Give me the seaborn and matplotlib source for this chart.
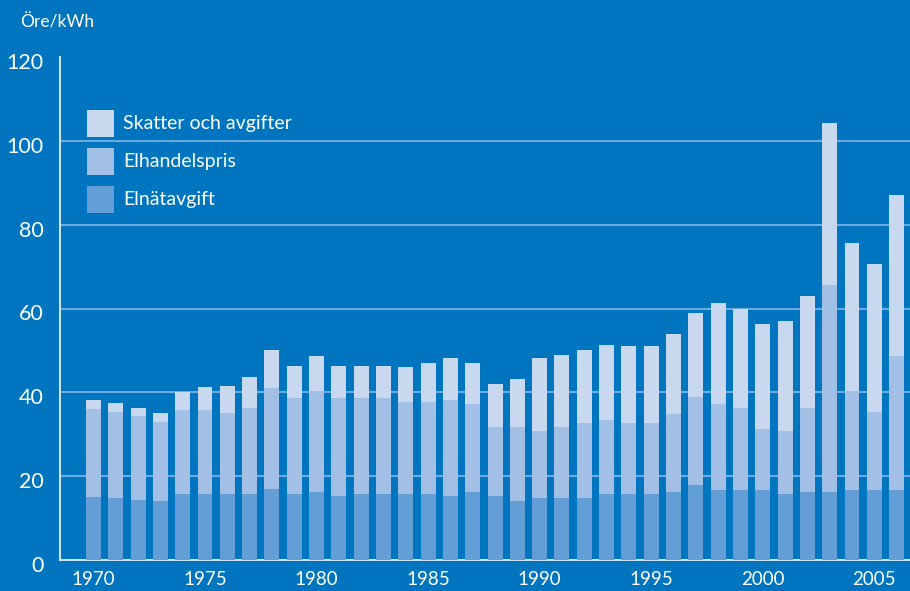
import numpy as np
import pandas as pd
import matplotlib
matplotlib.use('Agg')
import matplotlib.pyplot as plt
import matplotlib.transforms as mtransforms
import seaborn as sns
from matplotlib.patches import Rectangle

years = list(range(1970, 2007))
elnat = [15.0, 14.8, 14.3, 14.0, 15.7, 15.7, 15.7, 15.7, 16.9, 15.7,
         16.2, 15.2, 15.7, 15.7, 15.7, 15.7, 15.2, 16.2, 15.2, 14.0,
         14.8, 14.8, 14.8, 15.7, 15.7, 15.7, 16.2, 17.9, 16.7, 16.7,
         16.7, 15.7, 16.2, 16.2, 16.7, 16.7, 16.7]
# top of the middle segment (elnät + elhandel)
elhandel_top = [36.0, 35.2, 34.3, 32.9, 35.7, 35.7, 35.0, 36.2, 41.0, 38.6,
                40.2, 38.6, 38.6, 38.6, 37.6, 37.6, 38.1, 37.1, 31.7, 31.7,
                30.7, 31.7, 32.6, 33.3, 32.6, 32.6, 34.8, 38.8, 37.1, 36.2,
                31.2, 30.7, 36.2, 65.5, 40.2, 35.2, 48.6]
# total price
total = [38.1, 37.4, 36.2, 35.0, 40.0, 41.2, 41.4, 43.6, 50.2, 46.2,
         48.6, 46.4, 46.4, 46.4, 46.0, 47.1, 48.1, 47.1, 42.1, 43.1,
         48.1, 49.0, 50.2, 51.4, 51.0, 51.0, 54.0, 59.0, 61.2, 60.0,
         56.2, 57.1, 63.1, 104.3, 75.7, 70.5, 87.1]

labels = ['Skatter och avgifter', 'Elhandelspris', 'Elnätavgift']
colors = ['#c8d8ee', '#a2c0e5', '#639fd6']

bg = '#0075bf'
grid_col = '#6aaadf'
axis_col = '#e6eff9'

df = pd.DataFrame({'year': years, 'elnat': elnat,
                   'elhandel_top': elhandel_top, 'total': total})

sns.set_style('white')
plt.rcParams['font.family'] = ['Lato', 'DejaVu Sans']

W, H = 910, 591
fig = plt.figure(figsize=(9.1, 5.91), dpi=100, facecolor=bg)
ax = fig.add_axes([60 / W, 31 / H, 850 / W, 503 / H])
ax.set_facecolor(bg)

for col, c in zip(['total', 'elhandel_top', 'elnat'], colors):
    sns.barplot(data=df, x='year', y=col, color=c, width=0.67,
                saturation=1, linewidth=0, edgecolor='none', ax=ax, zorder=3)

ax.set_ylim(0, 120)
ax.set_xlim(-1.5, 36.6)
ax.set_yticks(range(0, 121, 20))
ax.set_yticklabels([str(v) for v in range(0, 121, 20)])
ax.set_xticks(range(0, 37, 5))
ax.set_xticklabels([str(y) for y in years[::5]])
ax.tick_params(axis='y', length=0, pad=12, labelsize=15.5, labelcolor='white')
ax.tick_params(axis='x', length=0, pad=8, labelsize=13.5, labelcolor='white')
ax.set_xlabel('')
ax.set_ylabel('')

# y labels sit a little below their gridline in the original
shift = mtransforms.ScaledTranslation(0, -4 / 100, fig.dpi_scale_trans)
for lab in ax.get_yticklabels():
    lab.set_transform(lab.get_transform() + shift)

for v in range(20, 101, 20):
    ax.axhline(v, color=grid_col, lw=1.5, zorder=1)

for s in ['top', 'right']:
    ax.spines[s].set_visible(False)
for s in ['left', 'bottom']:
    ax.spines[s].set_color(axis_col)
    ax.spines[s].set_linewidth(1.3)

# legend as square swatches placed in pixel positions
for i, (lab, c) in enumerate(zip(labels, colors)):
    y0 = 110 + i * 38
    fig.patches.append(Rectangle((87 / W, 1 - (y0 + 27) / H), 27 / W, 27 / H,
                                 transform=fig.transFigure, facecolor=c,
                                 edgecolor='none', zorder=5))
    fig.text(123 / W, 1 - (y0 + 13.5) / H, lab, color='white', fontsize=14,
             va='center', ha='left')

fig.text(20 / W, 1 - 22 / H, 'Öre/kWh', color='white', fontsize=12.5,
         va='center', ha='left')

fig.savefig('out.png', dpi=100, facecolor=bg)
